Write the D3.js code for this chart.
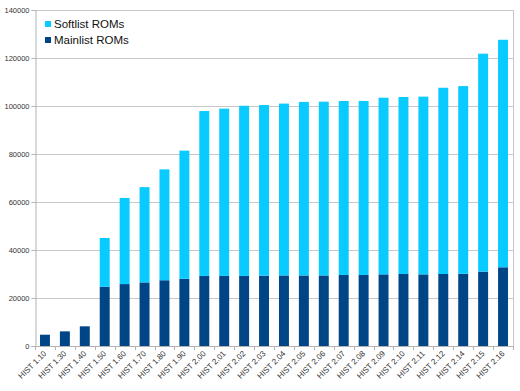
<!DOCTYPE html>
<html>
<head>
<meta charset="utf-8">
<script src="https://cdn.jsdelivr.net/npm/d3@7"></script>
<style>
  html, body { margin: 0; padding: 0; background: #fff; }
  svg { display: block; font-family: "Liberation Sans", Arial, sans-serif; }
</style>
</head>
<body>
<svg id="chart" width="520" height="391"></svg>
<script>
const categories = ["HIST 1.10","HIST 1.30","HIST 1.40","HIST 1.50","HIST 1.60","HIST 1.70","HIST 1.80","HIST 1.90","HIST 2.00","HIST 2.01","HIST 2.02","HIST 2.03","HIST 2.04","HIST 2.05","HIST 2.06","HIST 2.07","HIST 2.08","HIST 2.09","HIST 2.10","HIST 2.11","HIST 2.12","HIST 2.14","HIST 2.15","HIST 2.16"];
const mainlist = [4700,6100,8200,24700,25800,26500,27400,28000,29200,29200,29200,29300,29400,29400,29400,29600,29600,29850,30000,29850,30000,30100,31000,32800];
const softlist = [0,0,0,20300,35900,39700,46200,53400,68700,69700,70900,71100,71600,72300,72400,72500,72500,73600,73750,74050,77600,78200,90800,94800];
const yTicks = [0,20000,40000,60000,80000,100000,120000,140000];
const seriesNames = ["Softlist ROMs","Mainlist ROMs"];
const colors = { main: "#004586", soft: "#0acbff" };

(function () {
const svg = d3.select("#chart");
const pL = 35, pR = 513, pT = 10, pB = 346;

const x = d3.scaleBand().domain(categories).range([pL, pR]).paddingInner(0.5).paddingOuter(0.25);
const y = d3.scaleLinear().domain([0, 140000]).range([pB, pT]);

// gridlines
svg.append("g").selectAll("line").data(yTicks.slice(1)).join("line")
  .attr("x1", pL).attr("x2", pR)
  .attr("y1", d => Math.round(y(d)) + 0.5).attr("y2", d => Math.round(y(d)) + 0.5)
  .attr("stroke", "#c8c8c8").attr("stroke-width", 1);

// right border
svg.append("line").attr("x1", pR + 0.5).attr("x2", pR + 0.5).attr("y1", pT).attr("y2", pB)
  .attr("stroke", "#c8c8c8");

const data = categories.map((c, i) => ({ cat: c, main: mainlist[i], soft: softlist[i] }));

// mainlist bars
svg.append("g").selectAll("rect").data(data).join("rect")
  .attr("x", d => x(d.cat)).attr("width", x.bandwidth())
  .attr("y", d => y(d.main)).attr("height", d => y(0) - y(d.main))
  .attr("fill", colors.main);

// softlist bars
svg.append("g").selectAll("rect").data(data.filter(d => d.soft > 0)).join("rect")
  .attr("x", d => x(d.cat)).attr("width", x.bandwidth())
  .attr("y", d => y(d.main + d.soft)).attr("height", d => y(d.main) - y(d.main + d.soft))
  .attr("fill", colors.soft);

// y axis
const yAxis = d3.axisLeft(y).tickValues(yTicks).tickSize(4).tickPadding(2).tickFormat(d3.format("d"));
const gy = svg.append("g").attr("transform", `translate(${pL + 0.5},0)`).call(yAxis);
gy.select(".domain").attr("stroke", "#b3b3b3");
gy.selectAll(".tick line").attr("stroke", "#b3b3b3");
gy.selectAll(".tick text").attr("font-size", "7.5px").attr("fill", "#333").attr("font-family", "Liberation Sans, Arial, sans-serif");

// x axis line
svg.append("line").attr("x1", pL).attr("x2", pR + 1).attr("y1", pB + 0.5).attr("y2", pB + 0.5)
  .attr("stroke", "#b3b3b3");

// x ticks at category boundaries
const step = x.step();
const boundaries = categories.map(c => x(c) - step * 0.25).concat([x(categories[categories.length - 1]) + x.bandwidth() + step * 0.25]);
svg.append("g").selectAll("line").data(boundaries).join("line")
  .attr("x1", d => Math.round(d) + 0.5).attr("x2", d => Math.round(d) + 0.5)
  .attr("y1", pB).attr("y2", pB + 4)
  .attr("stroke", "#b3b3b3");

// x labels
svg.append("g").selectAll("text").data(categories).join("text")
  .attr("transform", d => `translate(${x(d) + x.bandwidth() / 2 + 2},${pB + 8}) rotate(-45)`)
  .attr("text-anchor", "end")
  .attr("font-size", "8px").attr("fill", "#333")
  .text(d => d);

// legend
const legend = svg.append("g");
const legendItems = [{ name: seriesNames[0], color: colors.soft }, { name: seriesNames[1], color: colors.main }];
legend.selectAll("rect").data(legendItems).join("rect")
  .attr("x", 45).attr("y", (d, i) => 21 + i * 16).attr("width", 6).attr("height", 6)
  .attr("fill", d => d.color);
legend.selectAll("text").data(legendItems).join("text")
  .attr("x", 54).attr("y", (d, i) => 28 + i * 16)
  .attr("font-size", "11.5px").attr("fill", "#111")
  .text(d => d.name);
})();
</script>
</body>
</html>
